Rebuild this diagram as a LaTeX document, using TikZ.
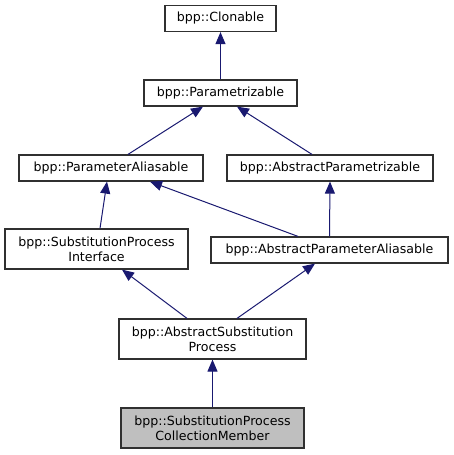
\documentclass[tikz,border=0pt]{standalone}
\usepackage{fontspec}
\setmainfont{DejaVu Sans}
\usetikzlibrary{arrows.meta}
\definecolor{edgecol}{HTML}{191970}
\definecolor{boxcol}{HTML}{303030}
\begin{document}
\begin{tikzpicture}[x=1pt,y=-1pt,
  cls/.style={draw=boxcol,line width=1.2pt,fill=white,inner sep=0pt,align=center,
    font=\fontsize{12.6}{15}\selectfont,minimum height=26pt},
  cls2/.style={cls,minimum height=40pt},
  inh/.style={draw=edgecol,line width=1pt,-{Triangle[length=12pt,width=10pt]}}]
\useasboundingbox (0,0) rectangle (453,455);
\node[cls,minimum width=111pt] (clon) at (220.5,18.5) {bpp::Clonable};
\node[cls,minimum width=153pt] (param) at (220.5,93) {bpp::Parametrizable};
\node[cls,minimum width=184pt] (pal) at (111,168) {bpp::ParameterAliasable};
\node[cls,minimum width=206pt] (apz) at (330,168) {bpp::AbstractParametrizable};
\node[cls2,minimum width=183pt] (spi) at (96.5,249) {bpp::SubstitutionProcess\\Interface};
\node[cls,minimum width=237pt] (apa) at (329.5,250) {bpp::AbstractParameterAliasable};
\node[cls2,minimum width=187pt] (asp) at (212.5,339) {bpp::AbstractSubstitution\\Process};
\node[cls2,minimum width=183pt,fill=black!25] (cm) at (212.5,428) {bpp::SubstitutionProcess\\CollectionMember};
\draw[inh] (param.north) -- (clon.south);
\draw[inh] ([xshift=17pt]pal.north) -- ([xshift=-17.5pt]param.south);
\draw[inh] ([xshift=-18pt]apz.north) -- ([xshift=16.5pt]param.south);
\draw[inh] ([xshift=3.5pt]spi.north) -- ([xshift=-4pt]pal.south);
\draw[inh] ([xshift=-31.5pt]apa.north) -- ([xshift=39pt]pal.south);
\draw[inh] (apa.north) -- (apz.south);
\draw[inh] ([xshift=-25.5pt]asp.north) -- ([xshift=25.5pt]spi.south);
\draw[inh] ([xshift=24.5pt]asp.north) -- ([xshift=-14.5pt]apa.south);
\draw[inh] (cm.north) -- (asp.south);
\end{tikzpicture}
\end{document}
